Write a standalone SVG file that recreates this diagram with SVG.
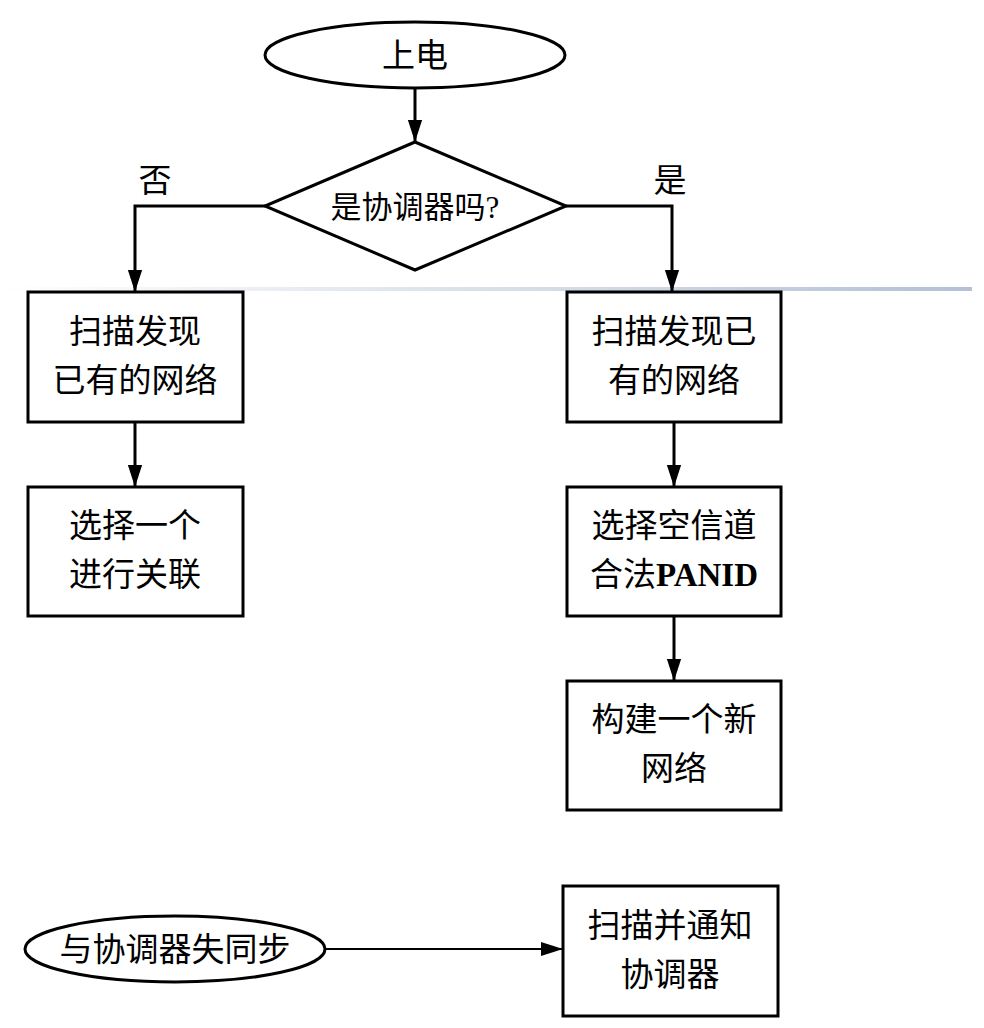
<svg xmlns="http://www.w3.org/2000/svg" width="984" height="1028" viewBox="0 0 984 1028">
<style>
.s{fill:#fff;stroke:#000;stroke-width:3}
.t{font-family:"Liberation Serif","Noto Sans CJK SC",serif;font-size:33px;fill:#000;text-anchor:middle}
.c{fill:none;stroke:#000;stroke-width:3}
</style>
<defs>
<marker id="a" markerWidth="10" markerHeight="10" refX="9" refY="5" orient="auto" markerUnits="userSpaceOnUse" viewBox="0 0 10 10"><path d="M0,0L10,5L0,10z"/></marker>
<marker id="b" markerWidth="22" markerHeight="34" refX="34" refY="11" orient="auto" markerUnits="userSpaceOnUse" viewBox="0 0 34 22"><path d="M0,0L34,11L0,22z"/></marker>
<linearGradient id="g" x1="0" x2="1"><stop offset="0" stop-color="#fff"/><stop offset="1" stop-color="#b4c1d4"/></linearGradient>
</defs>
<rect x="0" y="287" width="972" height="4" fill="url(#g)"/>
<g id="connectors">
<path class="c" d="M415,88V142" marker-end="url(#b)"/>
<path class="c" d="M265,206H135V292" marker-end="url(#b)"/>
<path class="c" d="M566,206H672V292" marker-end="url(#b)"/>
<path class="c" d="M135,422V487" marker-end="url(#b)"/>
<path class="c" d="M674,422V487" marker-end="url(#b)"/>
<path class="c" d="M674,616V681" marker-end="url(#b)"/>
<path fill="none" stroke="#000" stroke-width="2" d="M325,949H563" marker-end="url(#b)"/>
<text class="t" x="155" y="192">否</text>
<text class="t" x="670" y="192">是</text>
</g>
<g id="n1"><ellipse class="s" cx="415" cy="55" rx="150" ry="33"/><text class="t" x="415" y="67">上电</text></g>
<g id="n2"><path class="s" d="M415,142L566,206L415,270L265,206z"/><text class="t" x="415" y="218" style="font-size:31px">是协调器吗?</text></g>
<g id="n3"><rect class="s" x="28" y="292" width="215" height="130"/><text class="t" x="135" y="343">扫描发现</text><text class="t" x="135" y="392">已有的网络</text></g>
<g id="n4"><rect class="s" x="28" y="487" width="215" height="129"/><text class="t" x="135" y="537">选择一个</text><text class="t" x="135" y="586">进行关联</text></g>
<g id="n5"><rect class="s" x="567" y="292" width="214" height="130"/><text class="t" x="674" y="343">扫描发现已</text><text class="t" x="674" y="392">有的网络</text></g>
<g id="n6"><rect class="s" x="567" y="487" width="214" height="129"/><text class="t" x="674" y="537">选择空信道</text><text class="t" x="674" y="586">合法<tspan font-weight="bold">PANID</tspan></text></g>
<g id="n7"><rect class="s" x="567" y="681" width="214" height="129"/><text class="t" x="674" y="731">构建一个新</text><text class="t" x="674" y="780">网络</text></g>
<g id="n8"><ellipse class="s" cx="175" cy="949" rx="150" ry="33"/><text class="t" x="175" y="961">与协调器失同步</text></g>
<g id="n9"><rect class="s" x="563" y="886" width="215" height="130"/><text class="t" x="670" y="937">扫描并通知</text><text class="t" x="670" y="986">协调器</text></g>
</svg>
